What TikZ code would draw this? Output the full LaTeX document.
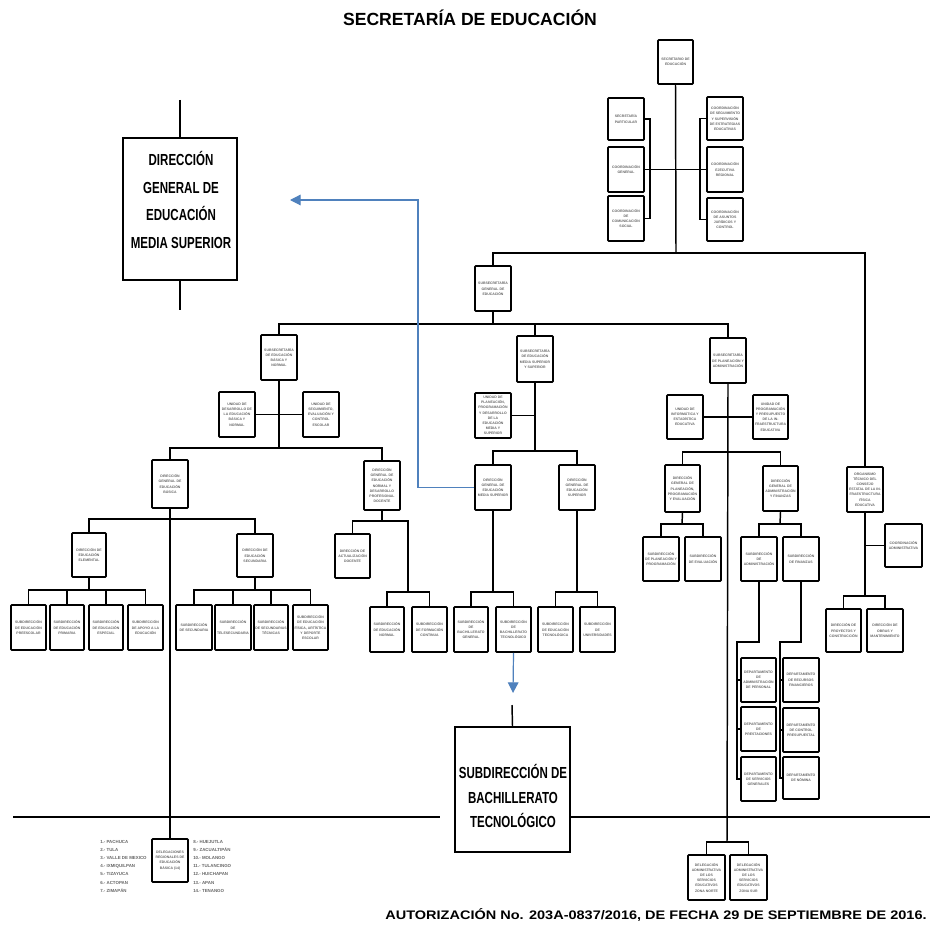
\documentclass[tikz,border=0pt]{standalone}
\usepackage{fontspec}
\setmainfont{Liberation Sans}
\newfontfamily\narrowbold[FakeStretch=0.72]{Liberation Sans Bold}
\newfontfamily\widebold[FakeStretch=1.17]{Liberation Sans Bold}
\usetikzlibrary{arrows.meta}
\tikzset{
  ob/.style={draw=black,line width=1.2pt,rounded corners=0.6pt,fill=white,inner sep=0.5pt,
    text width=24pt,align=flush center,font=\bfseries\fontsize{2.6}{3.9}\selectfont,text=black!60},
  bigbox/.style={draw=black,line width=1.3pt,fill=white},
  bigtxt/.style={align=center,text=black,inner sep=0pt},
  conn/.style={draw=black,line width=1.1pt},
  heavy/.style={draw=black,line width=1.6pt},
  bluearr/.style={draw={rgb,255:red,79;green,129;blue,189},line width=0.9pt,-{Triangle[length=8pt,width=8pt]}},
  listtxt/.style={align=left,anchor=north west,inner sep=0pt,font=\bfseries\fontsize{3.3}{6.1}\selectfont,text=black!60}
}
\newcommand\OB[6]{\node[ob,minimum width={(#4-#2)*0.75pt},minimum height={(#5-#3)*0.75pt}] (#1) at ({(#2+#4)/2},{(#3+#5)/2}) {#6};}
\begin{document}
\begin{tikzpicture}[x=0.75pt,y=-0.75pt]
\useasboundingbox[fill=white] (0,0) rectangle (934,930);
% titles
\node[font=\bfseries\fontsize{13.2}{15}\selectfont] (title) at (470,18) {SECRETARÍA DE EDUCACIÓN};
\node[font=\widebold\fontsize{9.3}{11}\selectfont] (foot) at (656,915) {AUTORIZACIÓN No. 203A-0837/2016, DE FECHA 29 DE SEPTIEMBRE DE 2016.};
% ---------- coordinates ----------
\coordinate (k0) at (676,253);
\coordinate (lb) at (650,169);
\coordinate (rb) at (700,169);
\coordinate (k1) at (493,324);
\coordinate (k2) at (279,448);
\coordinate (k3) at (170,519);
\coordinate (k4) at (89,590);
\coordinate (k4b) at (255,590);
\coordinate (k5) at (382,521);
\coordinate (k5r) at (408,521);
\coordinate (k6) at (408,592);
\coordinate (k7) at (535,451);
\coordinate (k8) at (493,592);
\coordinate (k9) at (577,592);
\coordinate (k10) at (727,842);
\coordinate (k11) at (727,452);
\coordinate (k12) at (682,524);
\coordinate (k13) at (780,524);
\coordinate (k14) at (737,642);
\coordinate (k15) at (780,642);
\coordinate (k16) at (865,596);
\coordinate (g1) at (180,100);
\coordinate (g2) at (180,310);
\coordinate (g3) at (512,705);
\coordinate (h1) at (13,817);
\coordinate (h2) at (440,817);
\coordinate (h3) at (570,817);
\coordinate (h4) at (930,817);
\coordinate (bc) at (418,200);
\coordinate (ba) at (290,200);
\coordinate (bb) at (513,693);
% ---------- boxes ----------
\OB{sec}{658}{40}{693}{84}{SECRETARIO DE EDUCACIÓN}
\OB{l1}{608}{98}{644}{140}{SECRETARÍA PARTICULAR}
\OB{l2}{608}{147}{644}{192}{COORDINACIÓN GENERAL}
\OB{l3}{608}{196}{644}{241}{COORDINACIÓN DE COMUNICACIÓN SOCIAL}
\OB{r1}{707}{97}{743}{140}{COORDINACIÓN DE SEGUIMIENTO Y SUPERVISIÓN DE ESTRATEGIAS EDUCATIVAS}
\OB{r2}{707}{147}{743}{192}{COORDINACIÓN EJECUTIVA REGIONAL}
\OB{r3}{707}{198}{743}{241}{COORDINACIÓN DE ASUNTOS JURÍDICOS Y CONTROL}
\OB{sg}{475}{266}{511}{311}{SUBSECRETARÍA GENERAL DE EDUCACIÓN}
\OB{sb}{261}{335}{297}{380}{SUBSECRETARÍA DE EDUCACIÓN BÁSICA Y NORMAL}
\OB{sm}{517}{336}{553}{382}{SUBSECRETARÍA DE EDUCACIÓN MEDIA SUPERIOR Y SUPERIOR}
\OB{sp}{710}{338}{746}{383}{SUBSECRETARÍA DE PLANEACIÓN Y ADMINISTRACIÓN}
\OB{sbl}{219}{392}{255}{437}{UNIDAD DE DESARROLLO DE LA EDUCACIÓN BÁSICA Y NORMAL}
\OB{sbr}{303}{392}{339}{437}{UNIDAD DE SEGUIMIENTO, EVALUACIÓN Y CONTROL ESCOLAR}
\OB{dgb}{152}{460}{188}{508}{DIRECCIÓN GENERAL DE EDUCACIÓN BÁSICA}
\OB{dgn}{364}{461}{400}{510}{DIRECCIÓN GENERAL DE EDUCACIÓN NORMAL Y DESARROLLO PROFESIONAL DOCENTE}
\OB{eb1}{72}{533}{106}{577}{DIRECCIÓN DE EDUCACIÓN ELEMENTAL}
\OB{eb2}{237}{534}{273}{577}{DIRECCIÓN DE EDUCACIÓN SECUNDARIA}
\OB{c1}{11}{605}{46}{650}{SUBDIRECCIÓN DE EDUCACIÓN PREESCOLAR}
\OB{c2}{50}{605}{84}{650}{SUBDIRECCIÓN DE EDUCACIÓN PRIMARIA}
\OB{c3}{89}{605}{123}{650}{SUBDIRECCIÓN DE EDUCACIÓN ESPECIAL}
\OB{c4}{128}{605}{163}{650}{SUBDIRECCIÓN DE APOYO A LA EDUCACIÓN}
\OB{d1}{176}{605}{212}{650}{SUBDIRECCIÓN DE SECUNDARIA}
\OB{d2}{215}{605}{251}{650}{SUBDIRECCIÓN DE TELESECUNDARIA}
\OB{d3}{254}{605}{288}{650}{SUBDIRECCIÓN DE SECUNDARIAS TÉCNICAS}
\OB{d4}{293}{605}{328}{650}{SUBDIRECCIÓN DE EDUCACIÓN FÍSICA, ARTÍSTICA Y DEPORTE ESCOLAR}
\OB{n1}{335}{534}{370}{578}{DIRECCIÓN DE ACTUALIZACIÓN DOCENTE}
\OB{n2}{370}{607}{404}{652}{SUBDIRECCIÓN DE EDUCACIÓN NORMAL}
\OB{n3}{412}{607}{447}{652}{SUBDIRECCIÓN DE FORMACIÓN CONTINUA}
\OB{sms}{475}{393}{511}{438}{UNIDAD DE PLANEACIÓN, PROGRAMACIÓN Y DESARROLLO DE LA EDUCACIÓN MEDIA Y SUPERIOR}
\OB{dms}{475}{465}{511}{510}{DIRECCIÓN GENERAL DE EDUCACIÓN MEDIA SUPERIOR}
\OB{dsu}{559}{465}{595}{510}{DIRECCIÓN GENERAL DE EDUCACIÓN SUPERIOR}
\OB{m1}{454}{607}{488}{652}{SUBDIRECCIÓN DE BACHILLERATO GENERAL}
\OB{m2}{496}{607}{531}{652}{SUBDIRECCIÓN DE BACHILLERATO TECNOLÓGICO}
\OB{m3}{538}{607}{573}{652}{SUBDIRECCIÓN DE EDUCACIÓN TECNOLÓGICA}
\OB{m4}{580}{607}{615}{652}{SUBDIRECCIÓN DE UNIVERSIDADES}
\OB{p1}{667}{395}{703}{439}{UNIDAD DE INFORMÁTICA Y ESTADÍSTICA EDUCATIVA}
\OB{p2}{753}{395}{788}{439}{UNIDAD DE PROGRAMACIÓN Y PRESUPUESTO DE LA INFRAESTRUCTURA EDUCATIVA}
\OB{da}{665}{465}{700}{512}{DIRECCIÓN GENERAL DE PLANEACIÓN, PROGRAMACIÓN Y EVALUACIÓN}
\OB{dr}{763}{466}{798}{511}{DIRECCIÓN GENERAL DE ADMINISTRACIÓN Y FINANZAS}
\OB{a1}{643}{537}{679}{581}{SUBDIRECCIÓN DE PLANEACIÓN Y PROGRAMACIÓN}
\OB{a2}{685}{537}{721}{581}{SUBDIRECCIÓN DE EVALUACIÓN}
\OB{ra}{741}{537}{777}{581}{SUBDIRECCIÓN DE ADMINISTRACIÓN}
\OB{rf}{783}{537}{819}{581}{SUBDIRECCIÓN DE FINANZAS}
\OB{q1}{741}{658}{776}{702}{DEPARTAMENTO DE ADMINISTRACIÓN DE PERSONAL}
\OB{q2}{741}{707}{776}{751}{DEPARTAMENTO DE PRESTACIONES}
\OB{q3}{741}{757}{776}{801}{DEPARTAMENTO DE SERVICIOS GENERALES}
\OB{s1}{783}{658}{819}{702}{DEPARTAMENTO DE RECURSOS FINANCIEROS}
\OB{s2}{783}{708}{819}{752}{DEPARTAMENTO DE CONTROL PRESUPUESTAL}
\OB{s3}{783}{757}{819}{799}{DEPARTAMENTO DE NÓMINA}
\OB{fr}{847}{467}{883}{512}{ORGANISMO TÉCNICO DEL CONSEJO ESTATAL DE LA INFRAESTRUCTURA FÍSICA EDUCATIVA}
\OB{fs}{885}{524}{922}{567}{COORDINACIÓN ADMINISTRATIVA}
\OB{f1}{826}{609}{861}{652}{DIRECCIÓN DE PROYECTOS Y CONSTRUCCIÓN}
\OB{f2}{867}{609}{903}{652}{DIRECCIÓN DE OBRAS Y MANTENIMIENTO}
\OB{z1}{688}{855}{725}{900}{DELEGACIÓN ADMINISTRATIVA DE LOS SERVICIOS EDUCATIVOS ZONA NORTE}
\OB{z2}{730}{855}{767}{900}{DELEGACIÓN ADMINISTRATIVA DE LOS SERVICIOS EDUCATIVOS ZONA SUR}
\OB{del}{152}{839}{188}{882}{DELEGACIONES REGIONALES DE EDUCACIÓN BÁSICA (14)}
% big boxes
\node[bigbox,minimum width={114*0.75pt},minimum height={142*0.75pt}] (dgems) at (180,209) {};
\node[bigtxt,font=\narrowbold\fontsize{12}{20.8}\selectfont] (dgemst) at (181,200)
  {DIRECCIÓN\\GENERAL DE\\EDUCACIÓN\\MEDIA SUPERIOR};
\node[bigbox,minimum width={115*0.75pt},minimum height={125*0.75pt}] (sbt) at (512.5,789.5) {};
\node[bigtxt,font=\narrowbold\fontsize{12}{18.3}\selectfont] (sbtt) at (513,796)
  {SUBDIRECCIÓN DE\\BACHILLERATO\\TECNOLÓGICO};
% lists
\node[listtxt] (listL) at (100,840) {1.- PACHUCA\\2.- TULA\\3.- VALLE DE MEXICO\\4.- IXMIQUILPAN\\5.- TIZAYUCA\\6.- ACTOPAN\\7.- ZIMAPÁN};
\node[listtxt] (listR) at (193,840) {8.- HUEJUTLA\\9.- ZACUALTIPÁN\\10.- MOLANGO\\11.- TULANCINGO\\12.- HUICHAPAN\\13.- APAN\\14.- TENANGO};
% ---------- connectors ----------
\draw[conn] (sec.south) -- (k0);
\draw[conn] (sg.north) |- (k0) -| (fr.north);
\draw[conn] (l2.east) -- (r2.west);
\draw[conn] (l1.east) -| (lb);
\draw[conn] (l3.east) -| (lb);
\draw[conn] (r1.west) -| (rb);
\draw[conn] (r3.west) -| (rb);
\draw[conn] (sg.south) -- (k1);
\draw[conn] (sb.north) |- (k1) -| (sp.north);
\draw[conn] (sm.north) -- (sm.north |- k1);
% basica
\draw[conn] (sb.south) -- (k2);
\draw[conn] (sbl.east) -- (sbr.west);
\draw[conn] (dgb.north) |- (k2) -| (dgn.north);
\draw[conn] (dgb.south) -- (del.north);
\draw[conn] (eb1.north) |- (k3) -| (eb2.north);
\draw[conn] (eb1.south) -- (k4);
\draw[conn] (c1.north) |- (k4) -| (c4.north);
\draw[conn] (c2.north) -- (c2.north |- k4);
\draw[conn] (c3.north) -- (c3.north |- k4);
\draw[conn] (eb2.south) -- (k4b);
\draw[conn] (d1.north) |- (k4b) -| (d4.north);
\draw[conn] (d2.north) -- (d2.north |- k4b);
\draw[conn] (d3.north) -- (d3.north |- k4b);
\draw[conn] (dgn.south) -- (k5);
\draw[conn] (n1.north) |- (k5r) -- (k6);
\draw[conn] (n2.north) |- (k6) -| (n3.north);
% media superior
\draw[conn] (sm.south) -- (k7);
\draw[conn] (sms.east) -- (sms.east -| k7);
\draw[conn] (dms.north) |- (k7) -| (dsu.north);
\draw[conn] (dms.south) -- (k8);
\draw[conn] (m1.north) |- (k8) -| (m2.north);
\draw[conn] (dsu.south) -- (k9);
\draw[conn] (m3.north) |- (k9) -| (m4.north);
% planeacion
\draw[conn] (sp.south) -- (k10);
\draw[conn] (p1.east) -- (p2.west);
\draw[conn] (z1.north) |- (k10) -| (z2.north);
\draw[conn] (da.north) |- (k11) -| (dr.north);
\draw[conn] (da.south) -- (k12);
\draw[conn] (a1.north) |- (k12) -| (a2.north);
\draw[conn] (dr.south) -- (k13);
\draw[conn] (ra.north) |- (k13) -| (rf.north);
\draw[conn] (ra.south) |- (k14) |- (q3.west);
\draw[conn] (q1.west) -| (k14);
\draw[conn] (q2.west) -| (k14);
\draw[conn] (rf.south) |- (k15) |- (s3.west);
\draw[conn] (s1.west) -| (k15);
\draw[conn] (s2.west) -| (k15);
% far right
\draw[conn] (fr.south) -- (k16);
\draw[conn] (fs.west) -- (fs.west -| k16);
\draw[conn] (f1.north) |- (k16) -| (f2.north);
% big boxes
\draw[conn] (g1) -- (dgems.north);
\draw[conn] (dgems.south) -- (g2);
\draw[conn] (g3) -- (sbt.north);
\draw[heavy] (h1) -- (h2);
\draw[heavy] (h3) -- (h4);
% blue arrows
\draw[bluearr] (dms.west) -| (bc) -- (ba);
\draw[bluearr] (m2.south) -- (bb);
\end{tikzpicture}
\end{document}
